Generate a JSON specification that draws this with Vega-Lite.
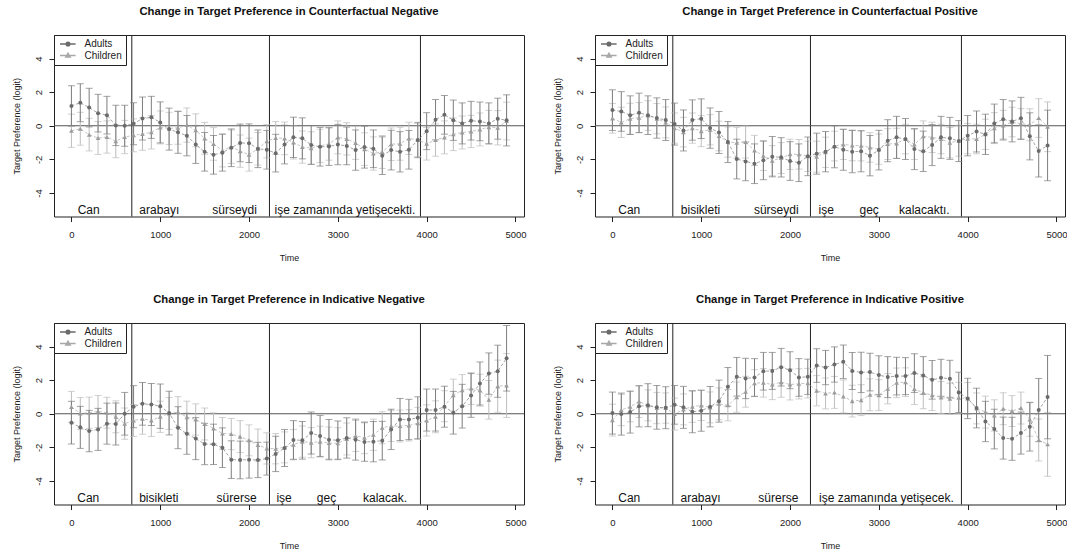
{
"$schema": "https://vega.github.io/schema/vega-lite/v6.json",
"background": "white",
"padding": {"left": 11, "top": 5, "right": 0, "bottom": 0},
"columns": 2,
"spacing": {"row": 106, "column": 71},
"bounds": "flush",
"resolve": {"scale": {"color": "independent", "shape": "independent", "stroke": "independent", "x": "independent", "y": "independent"}, "legend": {"color": "independent", "shape": "independent", "stroke": "independent"}},
"data": {"values": [
{"p":1,"g":"Adults","t":0,"y":1.18,"e":1.2},{"p":1,"g":"Adults","t":100,"y":1.37,"e":1.13},{"p":1,"g":"Adults","t":200,"y":1.08,"e":1.15},{"p":1,"g":"Adults","t":300,"y":0.75,"e":1.12},{"p":1,"g":"Adults","t":400,"y":0.63,"e":1.12},{"p":1,"g":"Adults","t":500,"y":0.02,"e":1.2},{"p":1,"g":"Adults","t":600,"y":0,"e":1.22},{"p":1,"g":"Adults","t":700,"y":0.12,"e":1.25},{"p":1,"g":"Adults","t":800,"y":0.43,"e":1.28},{"p":1,"g":"Adults","t":900,"y":0.5,"e":1.25},
{"p":1,"g":"Adults","t":1000,"y":0.2,"e":1.22},{"p":1,"g":"Adults","t":1100,"y":-0.2,"e":1.25},{"p":1,"g":"Adults","t":1200,"y":-0.39,"e":1.25},{"p":1,"g":"Adults","t":1300,"y":-0.59,"e":1.2},{"p":1,"g":"Adults","t":1400,"y":-1.12,"e":1.12},{"p":1,"g":"Adults","t":1500,"y":-1.55,"e":1.15},{"p":1,"g":"Adults","t":1600,"y":-1.73,"e":1.15},{"p":1,"g":"Adults","t":1700,"y":-1.6,"e":1.1},{"p":1,"g":"Adults","t":1800,"y":-1.31,"e":1.12},{"p":1,"g":"Adults","t":1900,"y":-1.02,"e":1.12},
{"p":1,"g":"Adults","t":2000,"y":-1.04,"e":1.15},{"p":1,"g":"Adults","t":2100,"y":-1.37,"e":1.12},{"p":1,"g":"Adults","t":2200,"y":-1.43,"e":1.15},{"p":1,"g":"Adults","t":2300,"y":-1.63,"e":1.12},{"p":1,"g":"Adults","t":2400,"y":-1.12,"e":1.15},{"p":1,"g":"Adults","t":2500,"y":-0.69,"e":1.2},{"p":1,"g":"Adults","t":2600,"y":-0.75,"e":1.22},{"p":1,"g":"Adults","t":2700,"y":-1.14,"e":1.15},{"p":1,"g":"Adults","t":2800,"y":-1.25,"e":1.15},{"p":1,"g":"Adults","t":2900,"y":-1.24,"e":1.12},
{"p":1,"g":"Adults","t":3000,"y":-1.12,"e":1.2},{"p":1,"g":"Adults","t":3100,"y":-1.2,"e":1.12},{"p":1,"g":"Adults","t":3200,"y":-1.45,"e":1.2},{"p":1,"g":"Adults","t":3300,"y":-1.27,"e":1.25},{"p":1,"g":"Adults","t":3400,"y":-1.37,"e":1.12},{"p":1,"g":"Adults","t":3500,"y":-1.78,"e":1.12},{"p":1,"g":"Adults","t":3600,"y":-1.45,"e":1.18},{"p":1,"g":"Adults","t":3700,"y":-1.55,"e":1.2},{"p":1,"g":"Adults","t":3800,"y":-1.43,"e":1.15},{"p":1,"g":"Adults","t":3900,"y":-0.85,"e":1.05},
{"p":1,"g":"Adults","t":4000,"y":-0.32,"e":1.1},{"p":1,"g":"Adults","t":4100,"y":0.36,"e":1.2},{"p":1,"g":"Adults","t":4200,"y":0.65,"e":1.15},{"p":1,"g":"Adults","t":4300,"y":0.33,"e":1.2},{"p":1,"g":"Adults","t":4400,"y":0.14,"e":1.22},{"p":1,"g":"Adults","t":4500,"y":0.3,"e":1.15},{"p":1,"g":"Adults","t":4600,"y":0.26,"e":1.15},{"p":1,"g":"Adults","t":4700,"y":0.14,"e":1.22},{"p":1,"g":"Adults","t":4800,"y":0.42,"e":1.22},{"p":1,"g":"Adults","t":4900,"y":0.32,"e":1.52},
{"p":1,"g":"Children","t":0,"y":-0.3,"e":0.99},{"p":1,"g":"Children","t":100,"y":-0.18,"e":0.98},{"p":1,"g":"Children","t":200,"y":-0.53,"e":0.97},{"p":1,"g":"Children","t":300,"y":-0.73,"e":0.98},{"p":1,"g":"Children","t":400,"y":-0.67,"e":0.96},{"p":1,"g":"Children","t":500,"y":-0.92,"e":0.98},{"p":1,"g":"Children","t":600,"y":-0.67,"e":0.99},{"p":1,"g":"Children","t":700,"y":-0.57,"e":0.98},{"p":1,"g":"Children","t":800,"y":-0.49,"e":0.97},{"p":1,"g":"Children","t":900,"y":-0.39,"e":0.99},
{"p":1,"g":"Children","t":1000,"y":-0.1,"e":0.98},{"p":1,"g":"Children","t":1100,"y":-0.16,"e":0.96},{"p":1,"g":"Children","t":1200,"y":-0.12,"e":0.98},{"p":1,"g":"Children","t":1300,"y":0.04,"e":1.02},{"p":1,"g":"Children","t":1400,"y":-0.27,"e":0.98},{"p":1,"g":"Children","t":1500,"y":-0.75,"e":0.95},{"p":1,"g":"Children","t":1600,"y":-1.08,"e":0.97},{"p":1,"g":"Children","t":1700,"y":-1.47,"e":0.98},{"p":1,"g":"Children","t":1800,"y":-1.25,"e":0.99},{"p":1,"g":"Children","t":1900,"y":-1.51,"e":0.96},
{"p":1,"g":"Children","t":2000,"y":-1.72,"e":0.98},{"p":1,"g":"Children","t":2100,"y":-1.37,"e":0.97},{"p":1,"g":"Children","t":2200,"y":-0.92,"e":0.99},{"p":1,"g":"Children","t":2300,"y":-0.73,"e":0.98},{"p":1,"g":"Children","t":2400,"y":-0.75,"e":0.97},{"p":1,"g":"Children","t":2500,"y":-1.0,"e":0.98},{"p":1,"g":"Children","t":2600,"y":-1.27,"e":0.96},{"p":1,"g":"Children","t":2700,"y":-1.33,"e":0.98},{"p":1,"g":"Children","t":2800,"y":-1.2,"e":0.99},{"p":1,"g":"Children","t":2900,"y":-1.08,"e":0.97},
{"p":1,"g":"Children","t":3000,"y":-0.69,"e":0.98},{"p":1,"g":"Children","t":3100,"y":-0.78,"e":0.96},{"p":1,"g":"Children","t":3200,"y":-1.02,"e":0.98},{"p":1,"g":"Children","t":3300,"y":-1.39,"e":0.97},{"p":1,"g":"Children","t":3400,"y":-1.65,"e":0.99},{"p":1,"g":"Children","t":3500,"y":-1.56,"e":0.98},{"p":1,"g":"Children","t":3600,"y":-1.1,"e":0.97},{"p":1,"g":"Children","t":3700,"y":-1.07,"e":0.98},{"p":1,"g":"Children","t":3800,"y":-0.75,"e":0.96},{"p":1,"g":"Children","t":3900,"y":-0.85,"e":0.98},
{"p":1,"g":"Children","t":4000,"y":-1.07,"e":0.97},{"p":1,"g":"Children","t":4100,"y":-0.85,"e":0.96},{"p":1,"g":"Children","t":4200,"y":-0.69,"e":0.98},{"p":1,"g":"Children","t":4300,"y":-0.51,"e":0.97},{"p":1,"g":"Children","t":4400,"y":-0.4,"e":0.98},{"p":1,"g":"Children","t":4500,"y":-0.34,"e":0.96},{"p":1,"g":"Children","t":4600,"y":-0.22,"e":0.98},{"p":1,"g":"Children","t":4700,"y":-0.08,"e":0.99},{"p":1,"g":"Children","t":4800,"y":-0.12,"e":1.02},{"p":1,"g":"Children","t":4900,"y":0.28,"e":1.12},
{"p":2,"g":"Adults","t":0,"y":0.93,"e":1.21},{"p":2,"g":"Adults","t":100,"y":0.85,"e":1.18},{"p":2,"g":"Adults","t":200,"y":0.63,"e":1.15},{"p":2,"g":"Adults","t":300,"y":0.77,"e":1.17},{"p":2,"g":"Adults","t":400,"y":0.63,"e":1.15},{"p":2,"g":"Adults","t":500,"y":0.46,"e":1.2},{"p":2,"g":"Adults","t":600,"y":0.34,"e":1.22},{"p":2,"g":"Adults","t":700,"y":0.1,"e":1.25},{"p":2,"g":"Adults","t":800,"y":-0.28,"e":1.22},{"p":2,"g":"Adults","t":900,"y":0.34,"e":1.2},
{"p":2,"g":"Adults","t":1000,"y":0.42,"e":1.18},{"p":2,"g":"Adults","t":1100,"y":-0.14,"e":1.2},{"p":2,"g":"Adults","t":1200,"y":-0.4,"e":1.25},{"p":2,"g":"Adults","t":1300,"y":-0.97,"e":1.22},{"p":2,"g":"Adults","t":1400,"y":-1.98,"e":1.18},{"p":2,"g":"Adults","t":1500,"y":-2.12,"e":1.15},{"p":2,"g":"Adults","t":1600,"y":-2.26,"e":1.18},{"p":2,"g":"Adults","t":1700,"y":-2.06,"e":1.15},{"p":2,"g":"Adults","t":1800,"y":-1.84,"e":1.2},{"p":2,"g":"Adults","t":1900,"y":-1.88,"e":1.17},
{"p":2,"g":"Adults","t":2000,"y":-2.1,"e":1.15},{"p":2,"g":"Adults","t":2100,"y":-2.2,"e":1.12},{"p":2,"g":"Adults","t":2200,"y":-1.82,"e":1.15},{"p":2,"g":"Adults","t":2300,"y":-1.66,"e":1.22},{"p":2,"g":"Adults","t":2400,"y":-1.54,"e":1.2},{"p":2,"g":"Adults","t":2500,"y":-1.25,"e":1.25},{"p":2,"g":"Adults","t":2600,"y":-1.43,"e":1.22},{"p":2,"g":"Adults","t":2700,"y":-1.54,"e":1.25},{"p":2,"g":"Adults","t":2800,"y":-1.52,"e":1.22},{"p":2,"g":"Adults","t":2900,"y":-1.78,"e":1.2},
{"p":2,"g":"Adults","t":3000,"y":-1.45,"e":1.18},{"p":2,"g":"Adults","t":3100,"y":-0.89,"e":1.25},{"p":2,"g":"Adults","t":3200,"y":-0.69,"e":1.25},{"p":2,"g":"Adults","t":3300,"y":-0.79,"e":1.22},{"p":2,"g":"Adults","t":3400,"y":-1.39,"e":1.22},{"p":2,"g":"Adults","t":3500,"y":-1.52,"e":1.2},{"p":2,"g":"Adults","t":3600,"y":-1.15,"e":1.22},{"p":2,"g":"Adults","t":3700,"y":-0.69,"e":1.25},{"p":2,"g":"Adults","t":3800,"y":-0.75,"e":1.25},{"p":2,"g":"Adults","t":3900,"y":-0.91,"e":1.22},
{"p":2,"g":"Adults","t":4000,"y":-0.59,"e":1.2},{"p":2,"g":"Adults","t":4100,"y":-0.34,"e":1.22},{"p":2,"g":"Adults","t":4200,"y":-0.51,"e":1.2},{"p":2,"g":"Adults","t":4300,"y":0.14,"e":1.15},{"p":2,"g":"Adults","t":4400,"y":0.38,"e":1.18},{"p":2,"g":"Adults","t":4500,"y":0.26,"e":1.22},{"p":2,"g":"Adults","t":4600,"y":0.44,"e":1.25},{"p":2,"g":"Adults","t":4700,"y":-0.63,"e":1.4},{"p":2,"g":"Adults","t":4800,"y":-1.5,"e":1.55},{"p":2,"g":"Adults","t":4900,"y":-1.17,"e":2.1},
{"p":2,"g":"Children","t":0,"y":0.44,"e":0.88},{"p":2,"g":"Children","t":100,"y":0.2,"e":0.9},{"p":2,"g":"Children","t":200,"y":0.42,"e":0.92},{"p":2,"g":"Children","t":300,"y":0.48,"e":0.9},{"p":2,"g":"Children","t":400,"y":0.61,"e":0.88},{"p":2,"g":"Children","t":500,"y":0.42,"e":0.9},{"p":2,"g":"Children","t":600,"y":0.2,"e":0.92},{"p":2,"g":"Children","t":700,"y":-0.14,"e":0.9},{"p":2,"g":"Children","t":800,"y":-0.38,"e":0.88},{"p":2,"g":"Children","t":900,"y":-0.14,"e":0.9},
{"p":2,"g":"Children","t":1000,"y":-0.32,"e":0.92},{"p":2,"g":"Children","t":1100,"y":-0.24,"e":0.9},{"p":2,"g":"Children","t":1200,"y":-0.61,"e":0.88},{"p":2,"g":"Children","t":1300,"y":-0.97,"e":0.9},{"p":2,"g":"Children","t":1400,"y":-1.01,"e":0.92},{"p":2,"g":"Children","t":1500,"y":-0.97,"e":0.95},{"p":2,"g":"Children","t":1600,"y":-1.47,"e":0.9},{"p":2,"g":"Children","t":1700,"y":-1.78,"e":0.88},{"p":2,"g":"Children","t":1800,"y":-2.08,"e":0.9},{"p":2,"g":"Children","t":1900,"y":-1.92,"e":0.92},
{"p":2,"g":"Children","t":2000,"y":-1.7,"e":0.9},{"p":2,"g":"Children","t":2100,"y":-1.7,"e":0.88},{"p":2,"g":"Children","t":2200,"y":-1.82,"e":0.9},{"p":2,"g":"Children","t":2300,"y":-1.84,"e":0.92},{"p":2,"g":"Children","t":2400,"y":-1.58,"e":0.9},{"p":2,"g":"Children","t":2500,"y":-1.21,"e":0.88},{"p":2,"g":"Children","t":2600,"y":-1.11,"e":0.9},{"p":2,"g":"Children","t":2700,"y":-1.17,"e":0.92},{"p":2,"g":"Children","t":2800,"y":-1.19,"e":0.9},{"p":2,"g":"Children","t":2900,"y":-1.29,"e":0.88},
{"p":2,"g":"Children","t":3000,"y":-1.39,"e":0.9},{"p":2,"g":"Children","t":3100,"y":-1.09,"e":0.92},{"p":2,"g":"Children","t":3200,"y":-1.05,"e":0.9},{"p":2,"g":"Children","t":3300,"y":-0.79,"e":0.88},{"p":2,"g":"Children","t":3400,"y":-1.11,"e":0.9},{"p":2,"g":"Children","t":3500,"y":-0.63,"e":0.92},{"p":2,"g":"Children","t":3600,"y":-0.69,"e":0.9},{"p":2,"g":"Children","t":3700,"y":-0.79,"e":0.88},{"p":2,"g":"Children","t":3800,"y":-1.01,"e":0.9},{"p":2,"g":"Children","t":3900,"y":-0.89,"e":0.92},
{"p":2,"g":"Children","t":4000,"y":-0.77,"e":0.9},{"p":2,"g":"Children","t":4100,"y":-0.79,"e":0.88},{"p":2,"g":"Children","t":4200,"y":-0.51,"e":0.9},{"p":2,"g":"Children","t":4300,"y":-0.14,"e":0.92},{"p":2,"g":"Children","t":4400,"y":0.02,"e":0.9},{"p":2,"g":"Children","t":4500,"y":0.22,"e":0.88},{"p":2,"g":"Children","t":4600,"y":0.12,"e":0.9},{"p":2,"g":"Children","t":4700,"y":0.06,"e":0.95},{"p":2,"g":"Children","t":4800,"y":0.46,"e":1.15},{"p":2,"g":"Children","t":4900,"y":-0.06,"e":1.48},
{"p":3,"g":"Adults","t":0,"y":-0.53,"e":1.27},{"p":3,"g":"Adults","t":100,"y":-0.81,"e":1.25},{"p":3,"g":"Adults","t":200,"y":-1.03,"e":1.23},{"p":3,"g":"Adults","t":300,"y":-0.93,"e":1.25},{"p":3,"g":"Adults","t":400,"y":-0.59,"e":1.22},{"p":3,"g":"Adults","t":500,"y":-0.61,"e":1.25},{"p":3,"g":"Adults","t":600,"y":0,"e":1.27},{"p":3,"g":"Adults","t":700,"y":0.42,"e":1.25},{"p":3,"g":"Adults","t":800,"y":0.59,"e":1.27},{"p":3,"g":"Adults","t":900,"y":0.55,"e":1.25},
{"p":3,"g":"Adults","t":1000,"y":0.45,"e":1.32},{"p":3,"g":"Adults","t":1100,"y":0.04,"e":1.3},{"p":3,"g":"Adults","t":1200,"y":-0.83,"e":1.25},{"p":3,"g":"Adults","t":1300,"y":-1.19,"e":1.22},{"p":3,"g":"Adults","t":1400,"y":-1.48,"e":1.25},{"p":3,"g":"Adults","t":1500,"y":-1.8,"e":1.23},{"p":3,"g":"Adults","t":1600,"y":-1.82,"e":1.2},{"p":3,"g":"Adults","t":1700,"y":-2.02,"e":1.18},{"p":3,"g":"Adults","t":1800,"y":-2.73,"e":1.12},{"p":3,"g":"Adults","t":1900,"y":-2.75,"e":1.12},
{"p":3,"g":"Adults","t":2000,"y":-2.73,"e":1.1},{"p":3,"g":"Adults","t":2100,"y":-2.75,"e":1.05},{"p":3,"g":"Adults","t":2200,"y":-2.67,"e":0.98},{"p":3,"g":"Adults","t":2300,"y":-2.39,"e":1.05},{"p":3,"g":"Adults","t":2400,"y":-2.04,"e":1.1},{"p":3,"g":"Adults","t":2500,"y":-1.56,"e":1.15},{"p":3,"g":"Adults","t":2600,"y":-1.58,"e":1.12},{"p":3,"g":"Adults","t":2700,"y":-1.15,"e":1.25},{"p":3,"g":"Adults","t":2800,"y":-1.32,"e":1.22},{"p":3,"g":"Adults","t":2900,"y":-1.54,"e":1.2},
{"p":3,"g":"Adults","t":3000,"y":-1.58,"e":1.15},{"p":3,"g":"Adults","t":3100,"y":-1.44,"e":1.2},{"p":3,"g":"Adults","t":3200,"y":-1.54,"e":1.22},{"p":3,"g":"Adults","t":3300,"y":-1.68,"e":1.15},{"p":3,"g":"Adults","t":3400,"y":-1.66,"e":1.2},{"p":3,"g":"Adults","t":3500,"y":-1.6,"e":1.15},{"p":3,"g":"Adults","t":3600,"y":-0.93,"e":1.2},{"p":3,"g":"Adults","t":3700,"y":-0.34,"e":1.25},{"p":3,"g":"Adults","t":3800,"y":-0.34,"e":1.2},{"p":3,"g":"Adults","t":3900,"y":-0.24,"e":1.25},
{"p":3,"g":"Adults","t":4000,"y":0.22,"e":1.25},{"p":3,"g":"Adults","t":4100,"y":0.22,"e":1.25},{"p":3,"g":"Adults","t":4200,"y":0.42,"e":1.22},{"p":3,"g":"Adults","t":4300,"y":0.06,"e":1.27},{"p":3,"g":"Adults","t":4400,"y":0.45,"e":1.3},{"p":3,"g":"Adults","t":4500,"y":1.09,"e":1.3},{"p":3,"g":"Adults","t":4600,"y":1.8,"e":1.28},{"p":3,"g":"Adults","t":4700,"y":2.39,"e":1.23},{"p":3,"g":"Adults","t":4800,"y":2.53,"e":1.55},{"p":3,"g":"Adults","t":4900,"y":3.3,"e":1.95},
{"p":3,"g":"Children","t":0,"y":0.41,"e":0.92},{"p":3,"g":"Children","t":100,"y":0.02,"e":0.95},{"p":3,"g":"Children","t":200,"y":0.06,"e":0.93},{"p":3,"g":"Children","t":300,"y":0.14,"e":0.95},{"p":3,"g":"Children","t":400,"y":0.06,"e":0.92},{"p":3,"g":"Children","t":500,"y":-0.18,"e":0.95},{"p":3,"g":"Children","t":600,"y":-0.59,"e":0.93},{"p":3,"g":"Children","t":700,"y":-0.4,"e":0.95},{"p":3,"g":"Children","t":800,"y":-0.3,"e":0.92},{"p":3,"g":"Children","t":900,"y":-0.4,"e":0.95},
{"p":3,"g":"Children","t":1000,"y":-0.18,"e":0.93},{"p":3,"g":"Children","t":1100,"y":0.02,"e":0.95},{"p":3,"g":"Children","t":1200,"y":0.1,"e":0.92},{"p":3,"g":"Children","t":1300,"y":-0.2,"e":0.95},{"p":3,"g":"Children","t":1400,"y":-0.34,"e":0.93},{"p":3,"g":"Children","t":1500,"y":-0.61,"e":0.95},{"p":3,"g":"Children","t":1600,"y":-0.87,"e":0.92},{"p":3,"g":"Children","t":1700,"y":-1.17,"e":0.95},{"p":3,"g":"Children","t":1800,"y":-1.21,"e":0.93},{"p":3,"g":"Children","t":1900,"y":-1.36,"e":0.95},
{"p":3,"g":"Children","t":2000,"y":-1.58,"e":0.92},{"p":3,"g":"Children","t":2100,"y":-1.86,"e":0.95},{"p":3,"g":"Children","t":2200,"y":-2.06,"e":0.93},{"p":3,"g":"Children","t":2300,"y":-2.08,"e":0.9},{"p":3,"g":"Children","t":2400,"y":-2.0,"e":0.92},{"p":3,"g":"Children","t":2500,"y":-1.84,"e":0.9},{"p":3,"g":"Children","t":2600,"y":-1.66,"e":0.93},{"p":3,"g":"Children","t":2700,"y":-1.72,"e":0.9},{"p":3,"g":"Children","t":2800,"y":-1.66,"e":0.92},{"p":3,"g":"Children","t":2900,"y":-1.74,"e":0.95},
{"p":3,"g":"Children","t":3000,"y":-1.76,"e":0.93},{"p":3,"g":"Children","t":3100,"y":-1.5,"e":0.95},{"p":3,"g":"Children","t":3200,"y":-1.32,"e":0.92},{"p":3,"g":"Children","t":3300,"y":-1.42,"e":0.95},{"p":3,"g":"Children","t":3400,"y":-1.25,"e":0.93},{"p":3,"g":"Children","t":3500,"y":-0.83,"e":0.95},{"p":3,"g":"Children","t":3600,"y":-0.73,"e":0.92},{"p":3,"g":"Children","t":3700,"y":-0.73,"e":0.95},{"p":3,"g":"Children","t":3800,"y":-0.69,"e":0.93},{"p":3,"g":"Children","t":3900,"y":-0.57,"e":0.95},
{"p":3,"g":"Children","t":4000,"y":-0.4,"e":0.93},{"p":3,"g":"Children","t":4100,"y":-0.18,"e":0.95},{"p":3,"g":"Children","t":4200,"y":0.45,"e":0.92},{"p":3,"g":"Children","t":4300,"y":1.11,"e":0.95},{"p":3,"g":"Children","t":4400,"y":1.4,"e":0.93},{"p":3,"g":"Children","t":4500,"y":1.5,"e":0.95},{"p":3,"g":"Children","t":4600,"y":1.4,"e":0.95},{"p":3,"g":"Children","t":4700,"y":0.83,"e":1.15},{"p":3,"g":"Children","t":4800,"y":1.64,"e":1.55},{"p":3,"g":"Children","t":4900,"y":1.68,"e":1.9},
{"p":4,"g":"Adults","t":0,"y":0.04,"e":1.25},{"p":4,"g":"Adults","t":100,"y":-0.02,"e":1.25},{"p":4,"g":"Adults","t":200,"y":0.1,"e":1.25},{"p":4,"g":"Adults","t":300,"y":0.44,"e":1.22},{"p":4,"g":"Adults","t":400,"y":0.51,"e":1.28},{"p":4,"g":"Adults","t":500,"y":0.38,"e":1.3},{"p":4,"g":"Adults","t":600,"y":0.36,"e":1.25},{"p":4,"g":"Adults","t":700,"y":0.53,"e":1.15},{"p":4,"g":"Adults","t":800,"y":0.38,"e":1.25},{"p":4,"g":"Adults","t":900,"y":0.12,"e":1.25},
{"p":4,"g":"Adults","t":1000,"y":0.18,"e":1.22},{"p":4,"g":"Adults","t":1100,"y":0.42,"e":1.2},{"p":4,"g":"Adults","t":1200,"y":0.75,"e":1.25},{"p":4,"g":"Adults","t":1300,"y":1.6,"e":1.15},{"p":4,"g":"Adults","t":1400,"y":2.2,"e":1.15},{"p":4,"g":"Adults","t":1500,"y":2.1,"e":1.2},{"p":4,"g":"Adults","t":1600,"y":2.16,"e":1.12},{"p":4,"g":"Adults","t":1700,"y":2.53,"e":1.12},{"p":4,"g":"Adults","t":1800,"y":2.55,"e":1.1},{"p":4,"g":"Adults","t":1900,"y":2.77,"e":1.12},
{"p":4,"g":"Adults","t":2000,"y":2.59,"e":1.1},{"p":4,"g":"Adults","t":2100,"y":2.16,"e":1.12},{"p":4,"g":"Adults","t":2200,"y":2.2,"e":1.05},{"p":4,"g":"Adults","t":2300,"y":2.87,"e":1.0},{"p":4,"g":"Adults","t":2400,"y":2.75,"e":1.02},{"p":4,"g":"Adults","t":2500,"y":2.93,"e":1.05},{"p":4,"g":"Adults","t":2600,"y":3.09,"e":1.0},{"p":4,"g":"Adults","t":2700,"y":2.55,"e":1.1},{"p":4,"g":"Adults","t":2800,"y":2.46,"e":1.2},{"p":4,"g":"Adults","t":2900,"y":2.48,"e":1.12},
{"p":4,"g":"Adults","t":3000,"y":2.3,"e":1.15},{"p":4,"g":"Adults","t":3100,"y":2.18,"e":1.22},{"p":4,"g":"Adults","t":3200,"y":2.24,"e":1.12},{"p":4,"g":"Adults","t":3300,"y":2.24,"e":1.1},{"p":4,"g":"Adults","t":3400,"y":2.42,"e":1.15},{"p":4,"g":"Adults","t":3500,"y":2.28,"e":1.12},{"p":4,"g":"Adults","t":3600,"y":2.02,"e":1.15},{"p":4,"g":"Adults","t":3700,"y":2.14,"e":1.1},{"p":4,"g":"Adults","t":3800,"y":2.08,"e":1.1},{"p":4,"g":"Adults","t":3900,"y":1.27,"e":1.2},
{"p":4,"g":"Adults","t":4000,"y":0.91,"e":1.2},{"p":4,"g":"Adults","t":4100,"y":0.34,"e":1.18},{"p":4,"g":"Adults","t":4200,"y":-0.46,"e":1.2},{"p":4,"g":"Adults","t":4300,"y":-0.91,"e":1.18},{"p":4,"g":"Adults","t":4400,"y":-1.45,"e":1.25},{"p":4,"g":"Adults","t":4500,"y":-1.49,"e":1.28},{"p":4,"g":"Adults","t":4600,"y":-1.15,"e":1.25},{"p":4,"g":"Adults","t":4700,"y":-0.77,"e":1.45},{"p":4,"g":"Adults","t":4800,"y":0.22,"e":1.88},{"p":4,"g":"Adults","t":4900,"y":0.99,"e":2.48},
{"p":4,"g":"Children","t":0,"y":-0.38,"e":0.95},{"p":4,"g":"Children","t":100,"y":0.22,"e":0.93},{"p":4,"g":"Children","t":200,"y":0.42,"e":0.9},{"p":4,"g":"Children","t":300,"y":0.73,"e":0.95},{"p":4,"g":"Children","t":400,"y":0.5,"e":0.92},{"p":4,"g":"Children","t":500,"y":0.34,"e":0.93},{"p":4,"g":"Children","t":600,"y":0.34,"e":0.9},{"p":4,"g":"Children","t":700,"y":-0.02,"e":0.95},{"p":4,"g":"Children","t":800,"y":0.26,"e":0.92},{"p":4,"g":"Children","t":900,"y":0.42,"e":0.93},
{"p":4,"g":"Children","t":1000,"y":0.5,"e":0.9},{"p":4,"g":"Children","t":1100,"y":0.38,"e":0.92},{"p":4,"g":"Children","t":1200,"y":0.59,"e":0.95},{"p":4,"g":"Children","t":1300,"y":0.51,"e":0.93},{"p":4,"g":"Children","t":1400,"y":0.99,"e":0.9},{"p":4,"g":"Children","t":1500,"y":1.31,"e":0.92},{"p":4,"g":"Children","t":1600,"y":1.82,"e":0.8},{"p":4,"g":"Children","t":1700,"y":1.84,"e":0.85},{"p":4,"g":"Children","t":1800,"y":1.74,"e":0.9},{"p":4,"g":"Children","t":1900,"y":1.88,"e":0.9},
{"p":4,"g":"Children","t":2000,"y":1.74,"e":0.92},{"p":4,"g":"Children","t":2100,"y":1.78,"e":0.9},{"p":4,"g":"Children","t":2200,"y":1.82,"e":0.88},{"p":4,"g":"Children","t":2300,"y":1.37,"e":0.9},{"p":4,"g":"Children","t":2400,"y":1.21,"e":0.92},{"p":4,"g":"Children","t":2500,"y":1.27,"e":0.95},{"p":4,"g":"Children","t":2600,"y":1.03,"e":0.98},{"p":4,"g":"Children","t":2700,"y":0.75,"e":0.95},{"p":4,"g":"Children","t":2800,"y":0.81,"e":0.92},{"p":4,"g":"Children","t":2900,"y":1.13,"e":0.95},
{"p":4,"g":"Children","t":3000,"y":1.11,"e":0.92},{"p":4,"g":"Children","t":3100,"y":1.49,"e":0.9},{"p":4,"g":"Children","t":3200,"y":1.84,"e":0.88},{"p":4,"g":"Children","t":3300,"y":1.88,"e":0.85},{"p":4,"g":"Children","t":3400,"y":1.47,"e":0.92},{"p":4,"g":"Children","t":3500,"y":1.25,"e":0.95},{"p":4,"g":"Children","t":3600,"y":1.11,"e":0.92},{"p":4,"g":"Children","t":3700,"y":0.97,"e":0.95},{"p":4,"g":"Children","t":3800,"y":0.89,"e":0.93},{"p":4,"g":"Children","t":3900,"y":0.95,"e":0.92},
{"p":4,"g":"Children","t":4000,"y":0.91,"e":0.95},{"p":4,"g":"Children","t":4100,"y":0.32,"e":0.92},{"p":4,"g":"Children","t":4200,"y":0.1,"e":0.95},{"p":4,"g":"Children","t":4300,"y":-0.1,"e":0.93},{"p":4,"g":"Children","t":4400,"y":0.3,"e":0.95},{"p":4,"g":"Children","t":4500,"y":0.16,"e":0.92},{"p":4,"g":"Children","t":4600,"y":0.34,"e":0.95},{"p":4,"g":"Children","t":4700,"y":-0.34,"e":1.0},{"p":4,"g":"Children","t":4800,"y":-1.56,"e":1.25},{"p":4,"g":"Children","t":4900,"y":-1.82,"e":1.9}
]},
"concat": [
{
"width": 470, "height": 181.5,
"title": "Change in Target Preference in Counterfactual Negative",
"transform": [{"filter": "datum.p == 1"}],
"layer": [
{"data": {"values": [{"v": 680}, {"v": 2230}, {"v": 3930}]}, "mark": {"type": "rule", "color": "#222222", "strokeWidth": 1}, "encoding": {"x": {"field": "v", "type": "quantitative", "scale": {"domain": [-196, 5096], "nice": false, "zero": false}, "title": "Time"}}},
{"data": {"values": [{"z": 0}]}, "mark": {"type": "rule", "color": "#555555", "strokeWidth": 1.2}, "encoding": {"y": {"field": "z", "type": "quantitative", "scale": {"domain": [-5.4, 5.4], "nice": false, "zero": false}, "title": "Target Preference (logit)"}}},
{"transform": [{"filter": "datum.g == 'Children'"}], "mark": {"type": "errorbar", "color": "#bdbdbd", "thickness": 1, "ticks": {"size": 7}}, "encoding": {"x": {"field": "t", "type": "quantitative", "title": "Time"}, "y": {"field": "y", "type": "quantitative", "title": "Target Preference (logit)"}, "yError": {"field": "e"}}},
{"transform": [{"filter": "datum.g == 'Adults'"}], "mark": {"type": "errorbar", "color": "#7c7c7c", "thickness": 1, "ticks": {"size": 7}}, "encoding": {"x": {"field": "t", "type": "quantitative", "title": "Time"}, "y": {"field": "y", "type": "quantitative", "title": "Target Preference (logit)"}, "yError": {"field": "e"}}},
{"transform": [{"filter": "datum.g == 'Children'"}], "mark": {"type": "line", "color": "#b5b5b5", "strokeWidth": 0.8, "strokeDash": [3, 2]}, "encoding": {"x": {"field": "t", "type": "quantitative", "title": "Time"}, "y": {"field": "y", "type": "quantitative", "title": "Target Preference (logit)"}}},
{"transform": [{"filter": "datum.g == 'Adults'"}], "mark": {"type": "line", "color": "#8c8c8c", "strokeWidth": 0.8, "strokeDash": [3, 2]}, "encoding": {"x": {"field": "t", "type": "quantitative", "title": "Time"}, "y": {"field": "y", "type": "quantitative", "title": "Target Preference (logit)"}}},
{"transform": [{"filter": "datum.g == 'Children'"}], "mark": {"type": "point", "filled": true, "opacity": 1, "shape": "triangle-up", "size": 22, "color": "#9c9c9c"}, "encoding": {"x": {"field": "t", "type": "quantitative", "title": "Time"}, "y": {"field": "y", "type": "quantitative", "title": "Target Preference (logit)"}}},
{"transform": [{"filter": "datum.g == 'Adults'"}], "mark": {"type": "point", "filled": true, "opacity": 1, "shape": "circle", "size": 16, "color": "#6b6b6b"}, "encoding": {
 "x": {"field": "t", "type": "quantitative", "title": "Time", "axis": {"values": [0, 1000, 2000, 3000, 4000, 5000], "labelExpr": "'' + datum.value"}},
 "y": {"field": "y", "type": "quantitative", "title": "Target Preference (logit)", "axis": {"values": [-4, -2, 0, 2, 4], "labelExpr": "'' + datum.value"}}}},
{"transform": [{"filter": "false"}], "mark": {"type": "point", "filled": true, "opacity": 1, "size": 16, "strokeWidth": 1}, "encoding": {
 "x": {"field": "t", "type": "quantitative", "title": "Time"},
 "y": {"field": "y", "type": "quantitative", "title": "Target Preference (logit)"},
 "color": {"field": "g", "type": "nominal", "scale": {"domain": ["Adults", "Children"], "range": ["#6b6b6b", "#9c9c9c"]}, "legend": {"title": null}},
 "stroke": {"field": "g", "type": "nominal", "scale": {"domain": ["Adults", "Children"], "range": ["#6b6b6b", "#a8a8a8"]}, "legend": {"title": null}},
 "shape": {"field": "g", "type": "nominal", "scale": {"domain": ["Adults", "Children"], "range": ["M-1.5,0H6.3M1.6,0A0.9,0.9,0,1,1,3.4,0A0.9,0.9,0,1,1,1.6,0Z", "M-1.5,0H6.3M2.5,-1.1L3.55,0.7L1.45,0.7Z"]}, "legend": {"title": null}}}},
{"data": {"values": [{"x": 194, "y": -5.04, "w": "Can"}, {"x": 990, "y": -5.04, "w": "arabayı"}, {"x": 1837, "y": -5.04, "w": "sürseydi"}, {"x": 3080, "y": -5.04, "w": "işe zamanında yetişecekti."}]}, "mark": {"type": "text", "fontSize": 12, "color": "#111111", "baseline": "middle", "align": "center"}, "encoding": {"x": {"field": "x", "type": "quantitative", "title": "Time"}, "y": {"field": "y", "type": "quantitative", "title": "Target Preference (logit)"}, "text": {"field": "w"}}}
]
},
{
"width": 470, "height": 181.5,
"title": "Change in Target Preference in Counterfactual Positive",
"transform": [{"filter": "datum.p == 2"}],
"layer": [
{"data": {"values": [{"v": 680}, {"v": 2230}, {"v": 3930}]}, "mark": {"type": "rule", "color": "#222222", "strokeWidth": 1}, "encoding": {"x": {"field": "v", "type": "quantitative", "scale": {"domain": [-196, 5096], "nice": false, "zero": false}, "title": "Time"}}},
{"data": {"values": [{"z": 0}]}, "mark": {"type": "rule", "color": "#555555", "strokeWidth": 1.2}, "encoding": {"y": {"field": "z", "type": "quantitative", "scale": {"domain": [-5.4, 5.4], "nice": false, "zero": false}, "title": "Target Preference (logit)"}}},
{"transform": [{"filter": "datum.g == 'Children'"}], "mark": {"type": "errorbar", "color": "#bdbdbd", "thickness": 1, "ticks": {"size": 7}}, "encoding": {"x": {"field": "t", "type": "quantitative", "title": "Time"}, "y": {"field": "y", "type": "quantitative", "title": "Target Preference (logit)"}, "yError": {"field": "e"}}},
{"transform": [{"filter": "datum.g == 'Adults'"}], "mark": {"type": "errorbar", "color": "#7c7c7c", "thickness": 1, "ticks": {"size": 7}}, "encoding": {"x": {"field": "t", "type": "quantitative", "title": "Time"}, "y": {"field": "y", "type": "quantitative", "title": "Target Preference (logit)"}, "yError": {"field": "e"}}},
{"transform": [{"filter": "datum.g == 'Children'"}], "mark": {"type": "line", "color": "#b5b5b5", "strokeWidth": 0.8, "strokeDash": [3, 2]}, "encoding": {"x": {"field": "t", "type": "quantitative", "title": "Time"}, "y": {"field": "y", "type": "quantitative", "title": "Target Preference (logit)"}}},
{"transform": [{"filter": "datum.g == 'Adults'"}], "mark": {"type": "line", "color": "#8c8c8c", "strokeWidth": 0.8, "strokeDash": [3, 2]}, "encoding": {"x": {"field": "t", "type": "quantitative", "title": "Time"}, "y": {"field": "y", "type": "quantitative", "title": "Target Preference (logit)"}}},
{"transform": [{"filter": "datum.g == 'Children'"}], "mark": {"type": "point", "filled": true, "opacity": 1, "shape": "triangle-up", "size": 22, "color": "#9c9c9c"}, "encoding": {"x": {"field": "t", "type": "quantitative", "title": "Time"}, "y": {"field": "y", "type": "quantitative", "title": "Target Preference (logit)"}}},
{"transform": [{"filter": "datum.g == 'Adults'"}], "mark": {"type": "point", "filled": true, "opacity": 1, "shape": "circle", "size": 16, "color": "#6b6b6b"}, "encoding": {
 "x": {"field": "t", "type": "quantitative", "title": "Time", "axis": {"values": [0, 1000, 2000, 3000, 4000, 5000], "labelExpr": "'' + datum.value"}},
 "y": {"field": "y", "type": "quantitative", "title": "Target Preference (logit)", "axis": {"values": [-4, -2, 0, 2, 4], "labelExpr": "'' + datum.value"}}}},
{"transform": [{"filter": "false"}], "mark": {"type": "point", "filled": true, "opacity": 1, "size": 16, "strokeWidth": 1}, "encoding": {
 "x": {"field": "t", "type": "quantitative", "title": "Time"},
 "y": {"field": "y", "type": "quantitative", "title": "Target Preference (logit)"},
 "color": {"field": "g", "type": "nominal", "scale": {"domain": ["Adults", "Children"], "range": ["#6b6b6b", "#9c9c9c"]}, "legend": {"title": null}},
 "stroke": {"field": "g", "type": "nominal", "scale": {"domain": ["Adults", "Children"], "range": ["#6b6b6b", "#a8a8a8"]}, "legend": {"title": null}},
 "shape": {"field": "g", "type": "nominal", "scale": {"domain": ["Adults", "Children"], "range": ["M-1.5,0H6.3M1.6,0A0.9,0.9,0,1,1,3.4,0A0.9,0.9,0,1,1,1.6,0Z", "M-1.5,0H6.3M2.5,-1.1L3.55,0.7L1.45,0.7Z"]}, "legend": {"title": null}}}},
{"data": {"values": [{"x": 190, "y": -5.04, "w": "Can"}, {"x": 992, "y": -5.04, "w": "bisikleti"}, {"x": 1845, "y": -5.04, "w": "sürseydi"}, {"x": 2407, "y": -5.04, "w": "işe"}, {"x": 2891, "y": -5.04, "w": "geç"}, {"x": 3512, "y": -5.04, "w": "kalacaktı."}]}, "mark": {"type": "text", "fontSize": 12, "color": "#111111", "baseline": "middle", "align": "center"}, "encoding": {"x": {"field": "x", "type": "quantitative", "title": "Time"}, "y": {"field": "y", "type": "quantitative", "title": "Target Preference (logit)"}, "text": {"field": "w"}}}
]
},
{
"width": 470, "height": 181.5,
"title": "Change in Target Preference in Indicative Negative",
"transform": [{"filter": "datum.p == 3"}],
"layer": [
{"data": {"values": [{"v": 680}, {"v": 2230}, {"v": 3930}]}, "mark": {"type": "rule", "color": "#222222", "strokeWidth": 1}, "encoding": {"x": {"field": "v", "type": "quantitative", "scale": {"domain": [-196, 5096], "nice": false, "zero": false}, "title": "Time"}}},
{"data": {"values": [{"z": 0}]}, "mark": {"type": "rule", "color": "#555555", "strokeWidth": 1.2}, "encoding": {"y": {"field": "z", "type": "quantitative", "scale": {"domain": [-5.4, 5.4], "nice": false, "zero": false}, "title": "Target Preference (logit)"}}},
{"transform": [{"filter": "datum.g == 'Children'"}], "mark": {"type": "errorbar", "color": "#bdbdbd", "thickness": 1, "ticks": {"size": 7}}, "encoding": {"x": {"field": "t", "type": "quantitative", "title": "Time"}, "y": {"field": "y", "type": "quantitative", "title": "Target Preference (logit)"}, "yError": {"field": "e"}}},
{"transform": [{"filter": "datum.g == 'Adults'"}], "mark": {"type": "errorbar", "color": "#7c7c7c", "thickness": 1, "ticks": {"size": 7}}, "encoding": {"x": {"field": "t", "type": "quantitative", "title": "Time"}, "y": {"field": "y", "type": "quantitative", "title": "Target Preference (logit)"}, "yError": {"field": "e"}}},
{"transform": [{"filter": "datum.g == 'Children'"}], "mark": {"type": "line", "color": "#b5b5b5", "strokeWidth": 0.8, "strokeDash": [3, 2]}, "encoding": {"x": {"field": "t", "type": "quantitative", "title": "Time"}, "y": {"field": "y", "type": "quantitative", "title": "Target Preference (logit)"}}},
{"transform": [{"filter": "datum.g == 'Adults'"}], "mark": {"type": "line", "color": "#8c8c8c", "strokeWidth": 0.8, "strokeDash": [3, 2]}, "encoding": {"x": {"field": "t", "type": "quantitative", "title": "Time"}, "y": {"field": "y", "type": "quantitative", "title": "Target Preference (logit)"}}},
{"transform": [{"filter": "datum.g == 'Children'"}], "mark": {"type": "point", "filled": true, "opacity": 1, "shape": "triangle-up", "size": 22, "color": "#9c9c9c"}, "encoding": {"x": {"field": "t", "type": "quantitative", "title": "Time"}, "y": {"field": "y", "type": "quantitative", "title": "Target Preference (logit)"}}},
{"transform": [{"filter": "datum.g == 'Adults'"}], "mark": {"type": "point", "filled": true, "opacity": 1, "shape": "circle", "size": 16, "color": "#6b6b6b"}, "encoding": {
 "x": {"field": "t", "type": "quantitative", "title": "Time", "axis": {"values": [0, 1000, 2000, 3000, 4000, 5000], "labelExpr": "'' + datum.value"}},
 "y": {"field": "y", "type": "quantitative", "title": "Target Preference (logit)", "axis": {"values": [-4, -2, 0, 2, 4], "labelExpr": "'' + datum.value"}}}},
{"transform": [{"filter": "false"}], "mark": {"type": "point", "filled": true, "opacity": 1, "size": 16, "strokeWidth": 1}, "encoding": {
 "x": {"field": "t", "type": "quantitative", "title": "Time"},
 "y": {"field": "y", "type": "quantitative", "title": "Target Preference (logit)"},
 "color": {"field": "g", "type": "nominal", "scale": {"domain": ["Adults", "Children"], "range": ["#6b6b6b", "#9c9c9c"]}, "legend": {"title": null}},
 "stroke": {"field": "g", "type": "nominal", "scale": {"domain": ["Adults", "Children"], "range": ["#6b6b6b", "#a8a8a8"]}, "legend": {"title": null}},
 "shape": {"field": "g", "type": "nominal", "scale": {"domain": ["Adults", "Children"], "range": ["M-1.5,0H6.3M1.6,0A0.9,0.9,0,1,1,3.4,0A0.9,0.9,0,1,1,1.6,0Z", "M-1.5,0H6.3M2.5,-1.1L3.55,0.7L1.45,0.7Z"]}, "legend": {"title": null}}}},
{"data": {"values": [{"x": 190, "y": -5.04, "w": "Can"}, {"x": 984, "y": -5.04, "w": "bisikleti"}, {"x": 1860, "y": -5.04, "w": "sürerse"}, {"x": 2395, "y": -5.04, "w": "işe"}, {"x": 2872, "y": -5.04, "w": "geç"}, {"x": 3531, "y": -5.04, "w": "kalacak."}]}, "mark": {"type": "text", "fontSize": 12, "color": "#111111", "baseline": "middle", "align": "center"}, "encoding": {"x": {"field": "x", "type": "quantitative", "title": "Time"}, "y": {"field": "y", "type": "quantitative", "title": "Target Preference (logit)"}, "text": {"field": "w"}}}
]
},
{
"width": 470, "height": 181.5,
"title": "Change in Target Preference in Indicative Positive",
"transform": [{"filter": "datum.p == 4"}],
"layer": [
{"data": {"values": [{"v": 680}, {"v": 2230}, {"v": 3930}]}, "mark": {"type": "rule", "color": "#222222", "strokeWidth": 1}, "encoding": {"x": {"field": "v", "type": "quantitative", "scale": {"domain": [-196, 5096], "nice": false, "zero": false}, "title": "Time"}}},
{"data": {"values": [{"z": 0}]}, "mark": {"type": "rule", "color": "#555555", "strokeWidth": 1.2}, "encoding": {"y": {"field": "z", "type": "quantitative", "scale": {"domain": [-5.4, 5.4], "nice": false, "zero": false}, "title": "Target Preference (logit)"}}},
{"transform": [{"filter": "datum.g == 'Children'"}], "mark": {"type": "errorbar", "color": "#bdbdbd", "thickness": 1, "ticks": {"size": 7}}, "encoding": {"x": {"field": "t", "type": "quantitative", "title": "Time"}, "y": {"field": "y", "type": "quantitative", "title": "Target Preference (logit)"}, "yError": {"field": "e"}}},
{"transform": [{"filter": "datum.g == 'Adults'"}], "mark": {"type": "errorbar", "color": "#7c7c7c", "thickness": 1, "ticks": {"size": 7}}, "encoding": {"x": {"field": "t", "type": "quantitative", "title": "Time"}, "y": {"field": "y", "type": "quantitative", "title": "Target Preference (logit)"}, "yError": {"field": "e"}}},
{"transform": [{"filter": "datum.g == 'Children'"}], "mark": {"type": "line", "color": "#b5b5b5", "strokeWidth": 0.8, "strokeDash": [3, 2]}, "encoding": {"x": {"field": "t", "type": "quantitative", "title": "Time"}, "y": {"field": "y", "type": "quantitative", "title": "Target Preference (logit)"}}},
{"transform": [{"filter": "datum.g == 'Adults'"}], "mark": {"type": "line", "color": "#8c8c8c", "strokeWidth": 0.8, "strokeDash": [3, 2]}, "encoding": {"x": {"field": "t", "type": "quantitative", "title": "Time"}, "y": {"field": "y", "type": "quantitative", "title": "Target Preference (logit)"}}},
{"transform": [{"filter": "datum.g == 'Children'"}], "mark": {"type": "point", "filled": true, "opacity": 1, "shape": "triangle-up", "size": 22, "color": "#9c9c9c"}, "encoding": {"x": {"field": "t", "type": "quantitative", "title": "Time"}, "y": {"field": "y", "type": "quantitative", "title": "Target Preference (logit)"}}},
{"transform": [{"filter": "datum.g == 'Adults'"}], "mark": {"type": "point", "filled": true, "opacity": 1, "shape": "circle", "size": 16, "color": "#6b6b6b"}, "encoding": {
 "x": {"field": "t", "type": "quantitative", "title": "Time", "axis": {"values": [0, 1000, 2000, 3000, 4000, 5000], "labelExpr": "'' + datum.value"}},
 "y": {"field": "y", "type": "quantitative", "title": "Target Preference (logit)", "axis": {"values": [-4, -2, 0, 2, 4], "labelExpr": "'' + datum.value"}}}},
{"transform": [{"filter": "false"}], "mark": {"type": "point", "filled": true, "opacity": 1, "size": 16, "strokeWidth": 1}, "encoding": {
 "x": {"field": "t", "type": "quantitative", "title": "Time"},
 "y": {"field": "y", "type": "quantitative", "title": "Target Preference (logit)"},
 "color": {"field": "g", "type": "nominal", "scale": {"domain": ["Adults", "Children"], "range": ["#6b6b6b", "#9c9c9c"]}, "legend": {"title": null}},
 "stroke": {"field": "g", "type": "nominal", "scale": {"domain": ["Adults", "Children"], "range": ["#6b6b6b", "#a8a8a8"]}, "legend": {"title": null}},
 "shape": {"field": "g", "type": "nominal", "scale": {"domain": ["Adults", "Children"], "range": ["M-1.5,0H6.3M1.6,0A0.9,0.9,0,1,1,3.4,0A0.9,0.9,0,1,1,1.6,0Z", "M-1.5,0H6.3M2.5,-1.1L3.55,0.7L1.45,0.7Z"]}, "legend": {"title": null}}}},
{"data": {"values": [{"x": 190, "y": -5.04, "w": "Can"}, {"x": 992, "y": -5.04, "w": "arabayı"}, {"x": 1868, "y": -5.04, "w": "sürerse"}, {"x": 3085, "y": -5.04, "w": "işe zamanında yetişecek."}]}, "mark": {"type": "text", "fontSize": 12, "color": "#111111", "baseline": "middle", "align": "center"}, "encoding": {"x": {"field": "x", "type": "quantitative", "title": "Time"}, "y": {"field": "y", "type": "quantitative", "title": "Target Preference (logit)"}, "text": {"field": "w"}}}
]
}
],
"config": {
 "font": "Liberation Sans",
 "view": {"stroke": "#222222", "strokeWidth": 1},
 "axis": {"grid": false, "domain": false, "tickColor": "#222222", "tickSize": 5, "tickWidth": 1, "labelFontSize": 9.5, "labelColor": "#222222", "titleFontSize": 9, "titleFontWeight": "normal", "titleColor": "#222222"},
 "axisX": {"labelPadding": 8, "titlePadding": 14.5},
 "axisY": {"labelAngle": 270, "labelAlign": "center", "labelBaseline": "bottom", "labelPadding": 6, "titlePadding": 12},
 "title": {"fontSize": 11.3, "fontWeight": "bold", "color": "#111111", "offset": 17, "anchor": "middle"},
 "legend": {"orient": "top-left", "offset": 0, "padding": 4, "strokeColor": "#222222", "fillColor": "white", "cornerRadius": 0, "labelFontSize": 10, "labelColor": "#222222", "symbolSize": 16, "rowPadding": 0.5, "labelOffset": 16.5}
}
}
